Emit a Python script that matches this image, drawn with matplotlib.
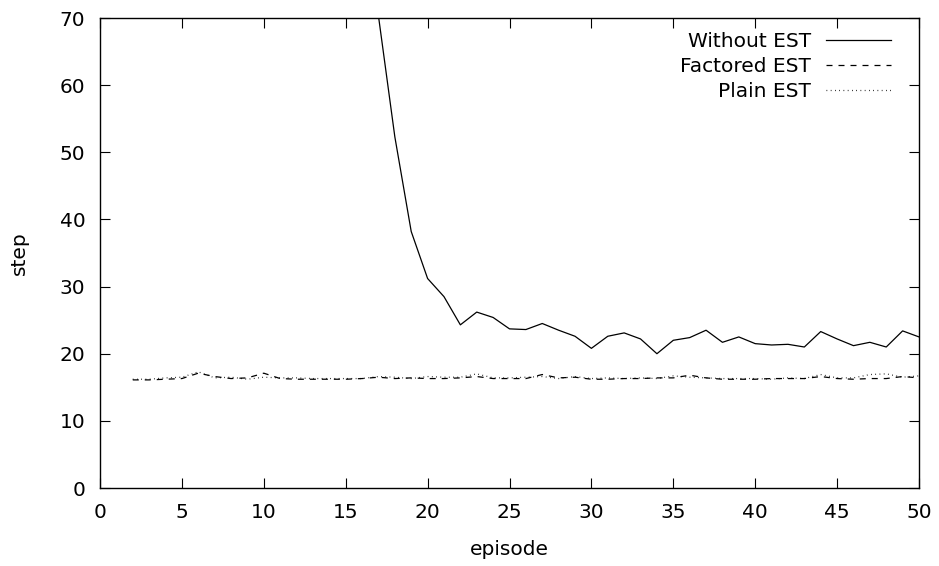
import matplotlib
matplotlib.use('Agg')
import matplotlib.pyplot as plt
import numpy as np

# episodes 2..50
episodes = list(range(2, 51))

without_est = [420, 380, 340, 300, 270, 240, 215, 190, 170, 150, 135, 122, 111, 104, 100,
               70.3, 52.3, 38.2, 31.2, 28.5, 24.3, 26.2, 25.4, 23.7, 23.6, 24.5, 23.5,
               22.6, 20.8, 22.6, 23.1, 22.2, 20.0, 22.0, 22.4, 23.5, 21.7, 22.5, 21.5,
               21.3, 21.4, 21.0, 23.3, 22.2, 21.2, 21.7, 21.0, 23.4, 22.5]

factored_est = [16.1, 16.1, 16.2, 16.3, 17.1, 16.6, 16.3, 16.4, 17.1, 16.3, 16.2, 16.2,
                16.2, 16.2, 16.3, 16.5, 16.3, 16.4, 16.3, 16.3, 16.4, 16.6, 16.3, 16.3,
                16.3, 16.9, 16.4, 16.5, 16.2, 16.2, 16.3, 16.3, 16.4, 16.4, 16.8, 16.4,
                16.2, 16.2, 16.2, 16.3, 16.3, 16.3, 16.6, 16.3, 16.2, 16.3, 16.3, 16.6, 16.4]

plain_est = [16.2, 16.2, 16.4, 16.5, 17.3, 16.4, 16.5, 16.2, 16.5, 16.4, 16.4, 16.3,
             16.3, 16.3, 16.3, 16.6, 16.5, 16.3, 16.6, 16.5, 16.5, 17.0, 16.4, 16.4,
             16.5, 16.6, 16.3, 16.6, 16.3, 16.4, 16.3, 16.4, 16.3, 16.7, 16.5, 16.4,
             16.3, 16.3, 16.3, 16.2, 16.4, 16.3, 16.9, 16.4, 16.4, 16.9, 17.0, 16.5, 16.7]

plt.rcParams['font.family'] = 'DejaVu Sans'
plt.rcParams['font.size'] = 14.5

fig = plt.figure(figsize=(9.39, 5.66), dpi=100)
ax = fig.add_axes([100 / 939, 1 - 488 / 566, 819 / 939, 470 / 566])

ax.plot(episodes, without_est, color='black', lw=0.9, label='Without EST')
ax.plot(episodes, factored_est, color='black', lw=0.9, dashes=(4.8, 4.8), label='Factored EST')
ax.plot(episodes, plain_est, color='black', lw=0.9, dashes=(0.6, 2.8), label='Plain EST')

ax.set_xlim(0, 50)
ax.set_ylim(0, 70)
ax.set_xticks(np.arange(0, 51, 5))
ax.set_yticks(np.arange(0, 71, 10))
ax.tick_params(direction='in', length=7, width=0.8, top=True, right=True)
ax.tick_params(axis='y', pad=10.5)
ax.tick_params(axis='x', pad=11)
for s in ax.spines.values():
    s.set_linewidth(1.0)

ax.set_xlabel('episode', labelpad=13)
ax.set_ylabel('step', labelpad=22)

leg = ax.legend(loc='upper right', frameon=False, markerfirst=False,
                handlelength=3.2, handletextpad=0.75, labelspacing=0.3,
                bbox_to_anchor=(0.98, 0.996), borderaxespad=0.2)
for t in leg.get_texts():
    t.set_ha('right')

fig.savefig('out.png', dpi=100)
